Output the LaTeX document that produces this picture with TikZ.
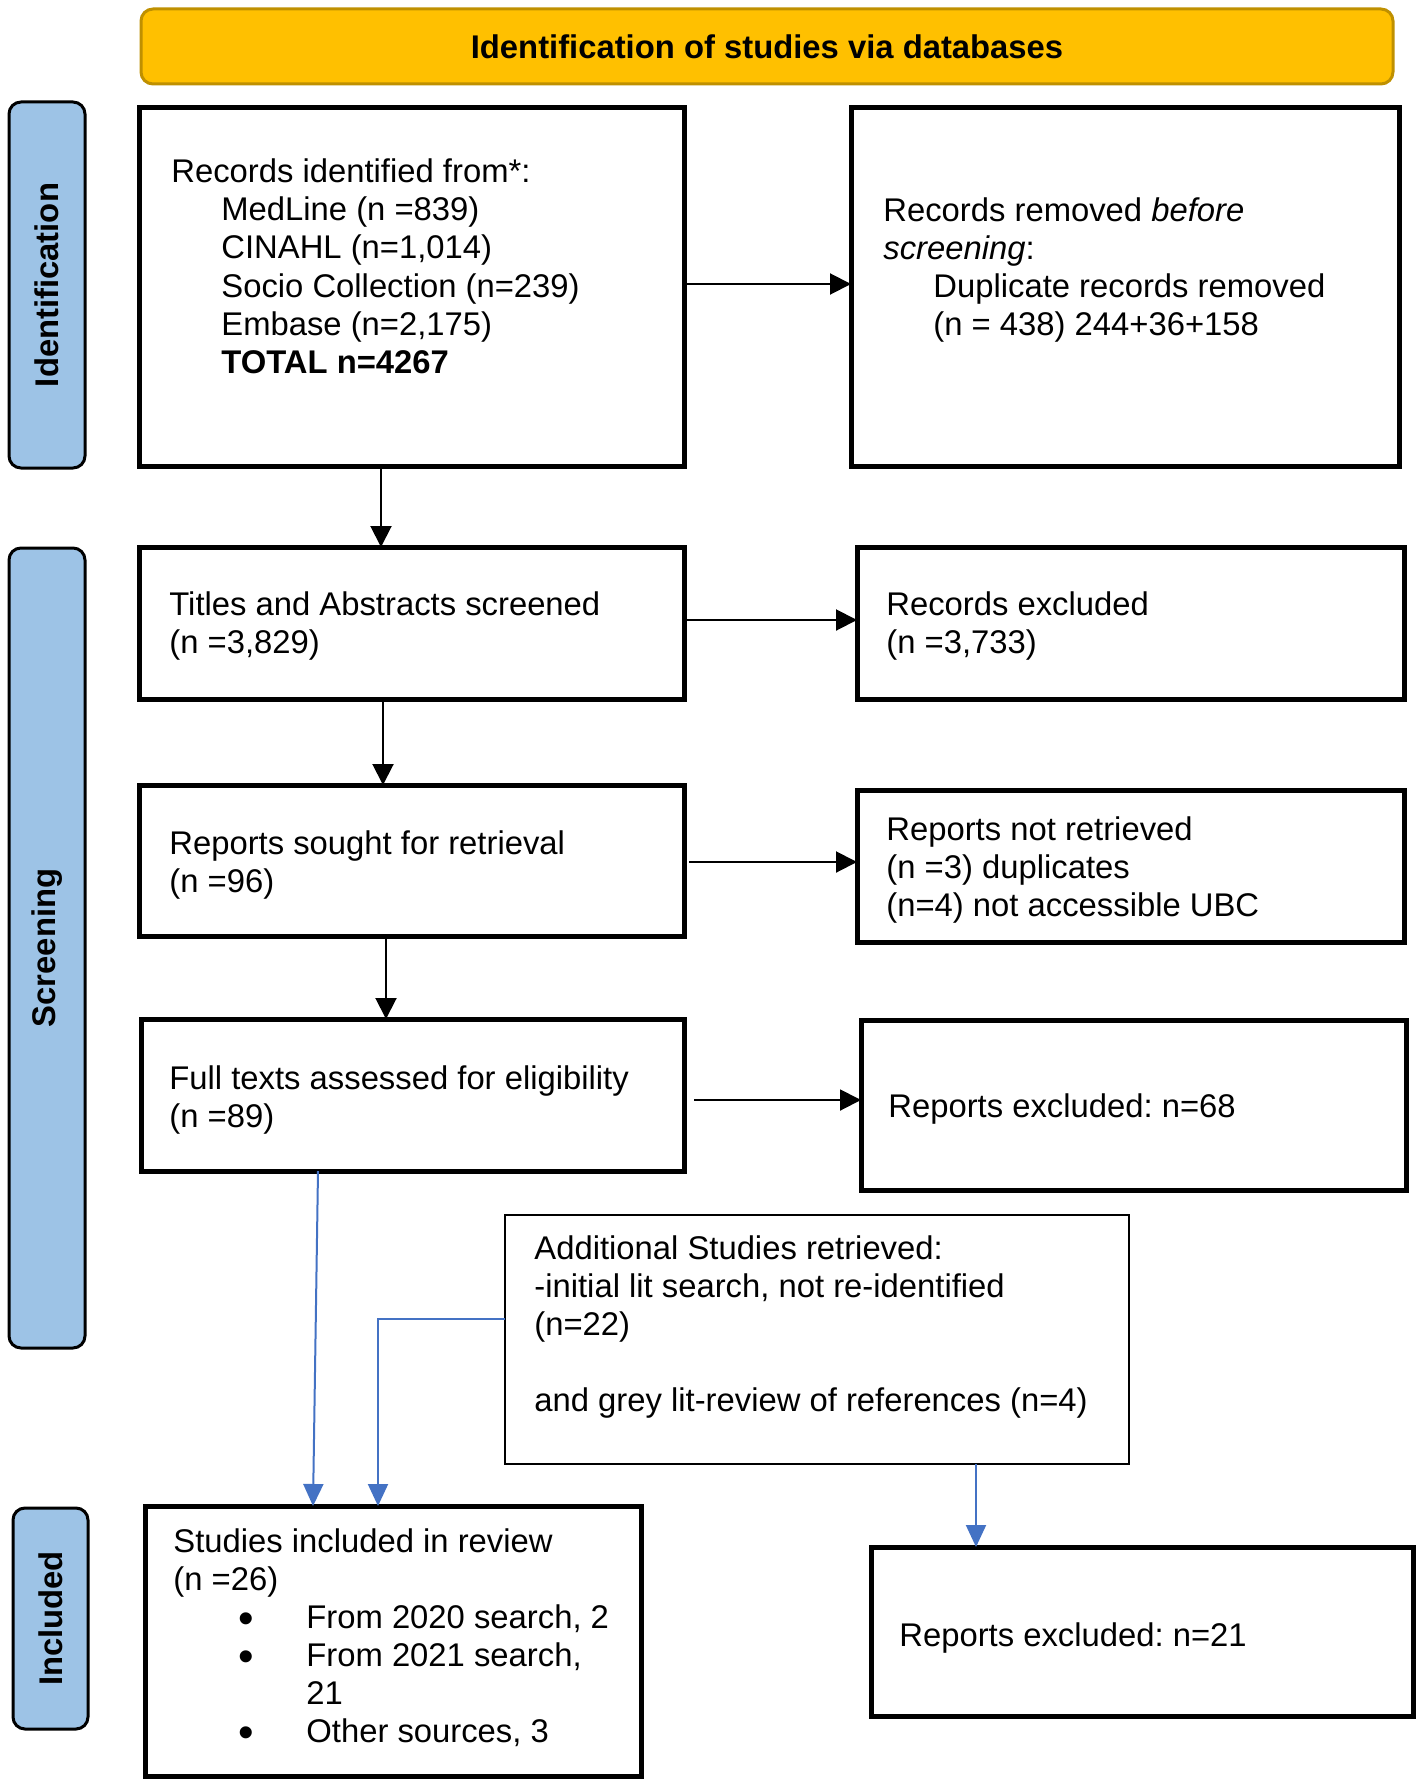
\documentclass[tikz,border=0pt]{standalone}
\usepackage{fontspec}
\setmainfont{Liberation Sans}
\usetikzlibrary{arrows.meta,calc,fit}
\frenchspacing
\definecolor{gold}{HTML}{FFC000}
\definecolor{golddark}{HTML}{BF9000}
\definecolor{sideblue}{HTML}{9DC3E6}
\definecolor{linkblue}{HTML}{4472C4}
\newcommand\mylines[1]{\begin{tabular}[t]{@{}l@{}}#1\end{tabular}}
\newcommand\ind{\hspace*{25pt}}
\newcommand\bul{\hspace*{32.5pt}\makebox[34pt][l]{\smash{\raisebox{-2.8pt}{\scalebox{1.35}{•}}}}}
\tikzset{
 box/.style={draw=black, line width=2.5pt, inner sep=0pt, outer sep=0pt},
 thinbox/.style={draw=black, line width=1.3pt, inner sep=0pt, outer sep=0pt},
 side/.style={draw=black, fill=sideblue, line width=1.5pt, rounded corners=6pt, inner sep=0pt, outer sep=0pt},
 banner/.style={draw=golddark, fill=gold, line width=1.5pt, rounded corners=6pt, inner sep=0pt, outer sep=0pt},
 txt/.style={anchor=base west, inner sep=0pt, font=\fontsize{16.4}{19}\selectfont},
 sidetxt/.style={rotate=90, inner sep=0pt, font=\fontsize{16.4}{19}\selectfont\bfseries},
 blkarrow/.style={draw=black, line width=1pt, -{Triangle[length=10.5pt,width=10.5pt]}},
 bluearrow/.style={draw=linkblue, line width=1pt, -{Triangle[length=11pt,width=10pt]}},
}
\begin{document}
\begin{tikzpicture}[x=0.5pt,y=-0.5pt]
\useasboundingbox (0,0) rectangle (1418,1782);
% banner
\node[banner, fit={(141,9) (1393,84)}] (banner) {};
\node[inner sep=0pt, font=\fontsize{16.4}{19}\selectfont\bfseries] (bannertxt) at (banner.center) {Identification of studies via databases};
% side labels
\node[side, fit={(9,102) (85,468)}] (sideid) {};
\node[sidetxt] (sideidtxt) at (sideid.center) {Identification};
\node[side, fit={(9,548) (85,1348)}] (sidescr) {};
\node[sidetxt] (sidescrtxt) at (sidescr.center) {Screening};
\node[side, fit={(13,1508) (88,1729)}] (sideinc) {};
\node[sidetxt] (sideinctxt) at (sideinc.center) {Included};
% boxes
\node[box, fit={(139,108) (684,466)}] (rec) {};
\node[box, fit={(851,108) (1399,466)}] (removed) {};
\node[box, fit={(139,547) (684,699)}] (titles) {};
\node[box, fit={(857,547) (1404,699)}] (recexcl) {};
\node[box, fit={(139,785) (684,936)}] (sought) {};
\node[box, fit={(857,790) (1404,942)}] (notret) {};
\node[box, fit={(141,1019) (684,1171)}] (full) {};
\node[box, fit={(861,1020) (1406,1190)}] (excla) {};
\node[thinbox, fit={(505,1215) (1129,1464)}] (add) {};
\node[box, fit={(145,1506) (641,1776)}] (studies) {};
\node[box, fit={(871,1547) (1413,1716)}] (exclb) {};
% texts
\node[txt] (rectxt) at (171,183) {\mylines{Records identified from*:\\
\ind MedLine (n =839)\\
\ind CINAHL (n=1,014)\\
\ind Socio Collection (n=239)\\
\ind Embase (n=2,175)\\
\ind\textbf{TOTAL n=4267}}};
\node[txt] (removedtxt) at (883,221) {\mylines{Records removed \textit{before}\\
\textit{screening}:\\
\ind Duplicate records removed\\
\ind (n = 438) 244+36+158}};
\node[txt] (titlestxt) at (169,615) {\mylines{Titles and Abstracts screened\\(n =3,829)}};
\node[txt] (recexcltxt) at (886,615) {\mylines{Records excluded\\(n =3,733)}};
\node[txt] (soughttxt) at (169,854) {\mylines{Reports sought for retrieval\\(n =96)}};
\node[txt] (notrettxt) at (886,840) {\mylines{Reports not retrieved\\(n =3) duplicates\\(n=4) not accessible UBC}};
\node[txt] (fulltxt) at (169,1089) {\mylines{Full texts assessed for eligibility\\(n =89)}};
\node[txt] (exclatxt) at (888,1117) {Reports excluded: n=68};
\node[txt] (addtxt) at (534,1259) {\mylines{Additional Studies retrieved:\\
-initial lit search, not re-identified\\
(n=22)\\
\\
and grey lit-review of references (n=4)}};
\node[txt] (studiestxt) at (173,1552) {\mylines{Studies included in review\\
(n =26)\\
\bul From 2020 search, 2\\
\bul From 2021 search,\\
\hspace*{66.5pt}21\\
\bul Other sources, 3}};
\node[txt] (exclbtxt) at (899,1646) {Reports excluded: n=21};
% black arrows
\draw[blkarrow] ($(rec.north east)+(0,176)$) coordinate (h1) -- (h1 -| removed.west);
\draw[blkarrow] ($(rec.south west)+(242,0)$) coordinate (v1) -- (v1 |- titles.north);
\draw[blkarrow] ($(titles.north east)+(0,73)$) coordinate (h2) -- (h2 -| recexcl.west);
\draw[blkarrow] ($(titles.south west)+(244,0)$) coordinate (v2) -- (v2 |- sought.north);
\draw[blkarrow] ($(sought.north east)+(5,77)$) coordinate (h3) -- (h3 -| notret.west);
\draw[blkarrow] ($(sought.south west)+(247,0)$) coordinate (v3) -- (v3 |- full.north);
\draw[blkarrow] ($(full.north east)+(10,81)$) coordinate (h4) -- (h4 -| excla.west);
% blue arrows
\draw[bluearrow] ($(full.south west)+(177,0)$) -- ($(studies.north west)+(168,0)$);
\draw[bluearrow] ($(add.north west)+(0,104)$) -| ($(studies.north west)+(233,0)$);
\draw[bluearrow] ($(add.south west)+(471,0)$) coordinate (b3) -- (b3 |- exclb.north);
\end{tikzpicture}
\end{document}
